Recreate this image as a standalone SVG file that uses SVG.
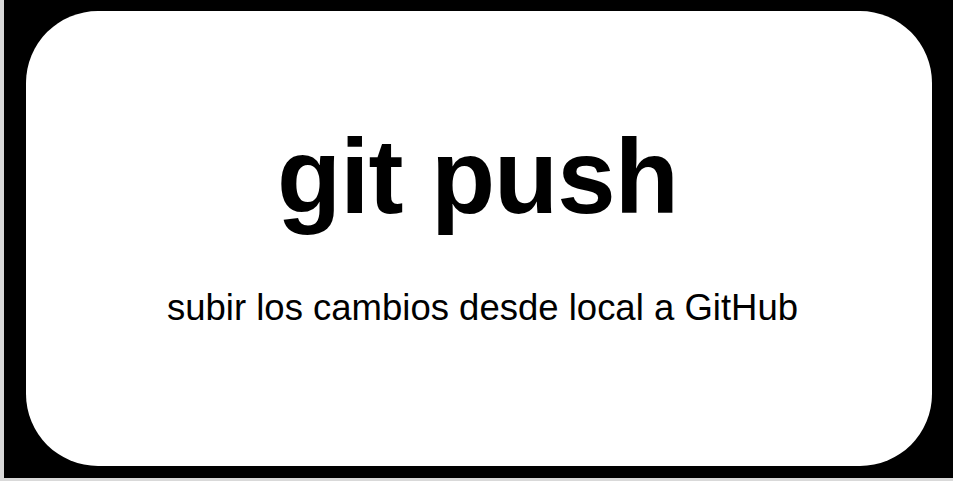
<svg xmlns="http://www.w3.org/2000/svg" width="953" height="481" viewBox="0 0 953 481">
  <style>
    .t { font-family: "Liberation Sans", Arial, Helvetica, sans-serif; fill: #000; }
  </style>
  <rect x="0" y="0" width="953" height="481" fill="#d9d9d9"/>
  <rect x="4" y="0" width="949" height="478" fill="#000"/>
  <g id="node-git-push">
    <rect x="26" y="11" width="906" height="455" rx="72" ry="72" fill="#fff"/>
    <text class="t" x="277" y="213" font-size="105" font-weight="bold" textLength="402" lengthAdjust="spacing">git push</text>
    <text class="t" x="167" y="320" font-size="36.5" textLength="631" lengthAdjust="spacing">subir los cambios desde local a GitHub</text>
  </g>
  <g id="connectors"/>
</svg>
